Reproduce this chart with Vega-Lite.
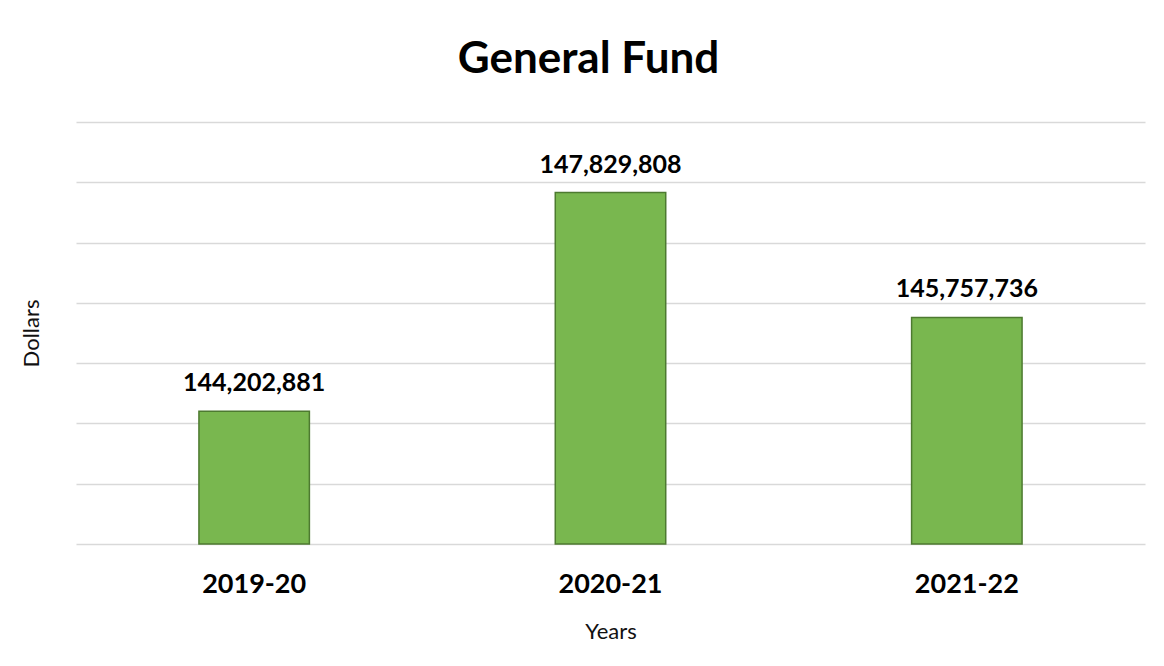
{
  "$schema": "https://vega.github.io/schema/vega-lite/v6.json",
  "autosize": {"type": "none"},
  "width": 1069,
  "height": 422,
  "padding": {"left": 76, "top": 122, "right": 19, "bottom": 122},
  "background": "white",
  "config": {"view": {"stroke": null}, "font": "Lato"},
  "title": {"text": "General Fund", "fontSize": 44, "fontWeight": "bold", "font": "Lato", "color": "#000000", "anchor": "middle", "offset": 40, "dx": -22},
  "data": {"values": [
    {"year": "2019-20", "dollars": 144202881},
    {"year": "2020-21", "dollars": 147829808},
    {"year": "2021-22", "dollars": 145757736}
  ]},
  "encoding": {
    "x": {"field": "year", "type": "nominal", "sort": null,
      "scale": {"paddingInner": 0.69, "paddingOuter": 0.345},
      "axis": {"title": "Years", "labelAngle": 0, "labelFontSize": 27, "labelFontWeight": "bold", "labelColor": "#000000", "labelFont": "Lato", "labelPadding": 27, "ticks": false, "domain": false, "titleFontSize": 22, "titleFontWeight": "normal", "titleColor": "#111111", "titleFont": "Lato", "titlePadding": 24}},
    "y": {"field": "dollars", "type": "quantitative",
      "scale": {"domain": [142000000, 149000000], "zero": false, "nice": false},
      "axis": {"title": "Dollars", "labels": false, "ticks": false, "domain": false, "values": [142000000,143000000,144000000,145000000,146000000,147000000,148000000,149000000], "grid": true, "gridColor": "#d9d9d9", "gridWidth": 1.5, "titleFontSize": 22, "titleFontWeight": "normal", "titleColor": "#111111", "titleFont": "Lato", "titleX": -33, "titleY": 211}}
  },
  "layer": [
    {"mark": {"type": "bar", "color": "#79b74f", "stroke": "#4d7a30", "strokeWidth": 1.5},
     "encoding": {"y2": {"datum": 142000000}}},
    {"mark": {"type": "text", "baseline": "alphabetic", "dy": -20, "fontSize": 25, "fontWeight": "bold", "font": "Lato", "color": "#000000"},
     "encoding": {"text": {"field": "dollars", "type": "quantitative", "format": ","}}}
  ]
}
